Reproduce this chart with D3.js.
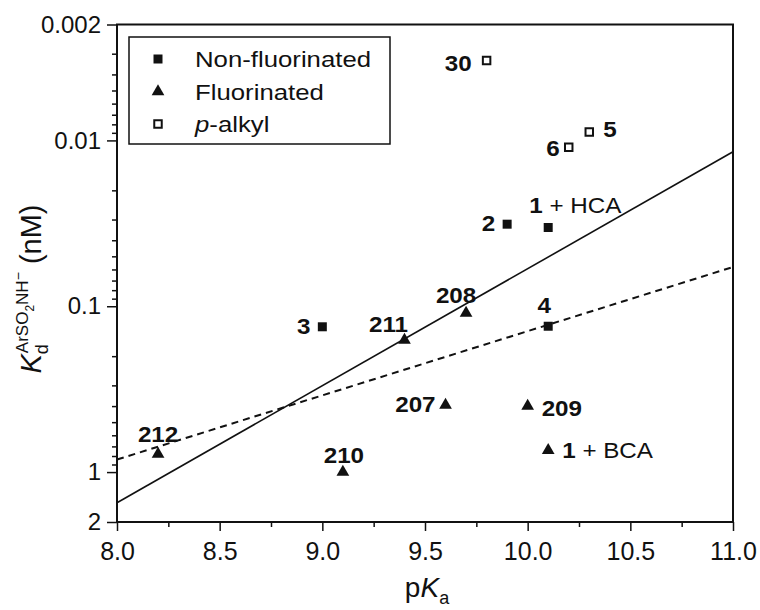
<!DOCTYPE html>
<meta charset="utf-8">
<style>
    body { margin: 0; background: #fff; }
    text { font-family: "Liberation Sans", Arial, sans-serif; fill: #111; }
    .axis path, .axis line { stroke: #111; }
    .axis text { font-size: 24px; fill: #111; }
</style>
<body>
<script src="https://cdn.jsdelivr.net/npm/d3@7"></script>
<script>
    // data
    var nonFluorX = [9.9, 10.1, 9.0, 10.1],
        nonFluorY = [0.032, 0.0335, 0.133, 0.132],
        nonFluorLabels = ['2', '1 + HCA', '3', '4'];

    var fluorX = [8.2, 9.1, 9.4, 9.6, 9.7, 10.0, 10.1],
        fluorY = [0.78, 1.0, 0.16, 0.395, 0.11, 0.40, 0.74],
        fluorLabels = ['212', '210', '211', '207', '208', '209', '1 + BCA'];

    var alkylX = [9.8, 10.3, 10.2],
        alkylY = [0.0033, 0.0089, 0.011],
        alkylLabels = ['30', '5', '6'];

    var solidFitX = [8, 11], solidFitY = [1.53, 0.0117],
        dashedFitX = [8, 11], dashedFitY = [0.84, 0.058];

    var xTicks = [8, 8.5, 9, 9.5, 10, 10.5, 11],
        yTicks = [0.002, 0.01, 0.1, 1, 2];

    var seriesNames = ['Non-fluorinated', 'Fluorinated', 'p-alkyl'];

    // where each point label sits relative to its marker
    var labelPos = {
        '30': [-15, 10, 'end'], '5': [14, 5, 'start'], '6': [-9, 9, 'end'],
        '2': [-12, 7, 'end'], '1 + HCA': [-19, -14, 'start'], '3': [-12, 7, 'end'],
        '4': [-4, -13, 'middle'], '211': [-16, -8, 'middle'], '208': [-10, -10, 'middle'],
        '207': [-10, 7, 'end'], '209': [14, 10, 'start'], '1 + BCA': [14, 8, 'start'],
        '210': [1, -9, 'middle'], '212': [0, -12, 'middle']
    };

    var W = 760, H = 610,
        plotLeft = 117, plotRight = 733, plotTop = 24.5, plotBottom = 522,
        stretch = 1.1;

    var svg = d3.select('body').append('svg')
        .attr('width', W)
        .attr('height', H);

    var x = d3.scaleLinear().domain([8, 11]).range([plotLeft, plotRight]);
    var y = d3.scaleLog().domain([0.002, 2]).range([plotTop, plotBottom]);

    // minor ticks
    var xMinor = d3.range(8.25, 11, 0.5);
    var yMinor = [];
    [0.001, 0.01, 0.1].forEach(function(dec) {
        for (var k = 2; k <= 9; k++) {
            var v = +(dec * k).toPrecision(3);
            if (v > 0.002 && yTicks.indexOf(v) < 0) yMinor.push(v);
        }
    });

    svg.append('g').attr('class', 'axis')
        .attr('transform', 'translate(0,' + plotBottom + ')')
        .call(d3.axisBottom(x).tickValues(xMinor).tickFormat('').tickSize(5).tickSizeOuter(0))
        .selectAll('line').attr('stroke-width', 1.5);

    var gx = svg.append('g').attr('class', 'axis')
        .attr('transform', 'translate(0,' + plotBottom + ')')
        .call(d3.axisBottom(x).tickValues(xTicks).tickFormat(d3.format('.1f'))
            .tickSize(9).tickPadding(11).tickSizeOuter(0));
    gx.selectAll('line').attr('stroke-width', 1.5);
    gx.selectAll('text').style('font-size', '25px');

    svg.append('g').attr('class', 'axis')
        .attr('transform', 'translate(' + plotLeft + ',0)')
        .call(d3.axisLeft(y).tickValues(yMinor).tickFormat('').tickSize(5).tickSizeOuter(0))
        .selectAll('line').attr('stroke-width', 1.5);

    var gy = svg.append('g').attr('class', 'axis')
        .attr('transform', 'translate(' + plotLeft + ',0)')
        .call(d3.axisLeft(y).tickValues(yTicks).tickFormat(function(d) { return String(d); })
            .tickSize(10).tickPadding(6).tickSizeOuter(0));
    gy.selectAll('line').attr('stroke-width', 1.5);

    svg.selectAll('.axis .domain').remove();

    // frame
    svg.append('rect')
        .attr('x', plotLeft).attr('y', plotTop)
        .attr('width', plotRight - plotLeft).attr('height', plotBottom - plotTop)
        .attr('fill', 'none').attr('stroke', '#111').attr('stroke-width', 2);

    // fit lines
    var line = d3.line().x(function(d) { return x(d[0]); }).y(function(d) { return y(d[1]); });
    svg.append('path')
        .attr('d', line(d3.zip(solidFitX, solidFitY)))
        .attr('fill', 'none').attr('stroke', '#111').attr('stroke-width', 1.6);
    svg.append('path')
        .attr('d', line(d3.zip(dashedFitX, dashedFitY)))
        .attr('fill', 'none').attr('stroke', '#111').attr('stroke-width', 2)
        .attr('stroke-dasharray', '7,5');

    var square = d3.symbol().type(d3.symbolSquare).size(81),
        openSquare = d3.symbol().type(d3.symbolSquare).size(56),
        triangle = d3.symbol().type(d3.symbolTriangle).size(70);

    function drawSeries(xs, ys, labels, sym, filled) {
        var pts = d3.zip(xs, ys, labels);
        svg.append('g').selectAll('path')
            .data(pts).enter().append('path')
            .attr('d', sym)
            .attr('transform', function(d) { return 'translate(' + x(d[0]) + ',' + y(d[1]) + ')'; })
            .attr('fill', filled ? '#111' : '#fff')
            .attr('stroke', '#111')
            .attr('stroke-width', filled ? 0 : 2);

        var t = svg.append('g').selectAll('text')
            .data(pts).enter().append('text')
            .attr('transform', function(d) {
                var p = labelPos[d[2]];
                return 'translate(' + (x(d[0]) + p[0]) + ',' + (y(d[1]) + p[1]) + ') scale(' + stretch + ',1)';
            })
            .attr('text-anchor', function(d) { return labelPos[d[2]][2]; })
            .style('font-size', '22px');
        t.append('tspan')
            .style('font-weight', 'bold')
            .text(function(d) { return d[2].split(' ')[0]; });
        t.append('tspan')
            .text(function(d) {
                var i = d[2].indexOf(' ');
                return i < 0 ? '' : d[2].slice(i).replace(/ /g, '\u00a0');
            });
    }

    drawSeries(nonFluorX, nonFluorY, nonFluorLabels, square, true);
    drawSeries(fluorX, fluorY, fluorLabels, triangle, true);
    drawSeries(alkylX, alkylY, alkylLabels, openSquare, false);

    // legend
    var legend = svg.append('g');
    legend.append('rect')
        .attr('x', 129).attr('y', 37).attr('width', 261).attr('height', 107)
        .attr('fill', '#fff').attr('stroke', '#111').attr('stroke-width', 1.5);
    var legSyms = [square, triangle, openSquare];
    seriesNames.forEach(function(name, i) {
        var ly = 59 + i * 32.5;
        legend.append('path')
            .attr('d', legSyms[i])
            .attr('transform', 'translate(158,' + ly + ')')
            .attr('fill', i < 2 ? '#111' : '#fff')
            .attr('stroke', '#111').attr('stroke-width', i < 2 ? 0 : 2);
        var lt = legend.append('text')
            .attr('transform', 'translate(195,' + (ly + 8) + ') scale(1.12,1)')
            .style('font-size', '23px');
        if (name.indexOf('p-') === 0) {
            lt.append('tspan').style('font-style', 'italic').text('p');
            lt.append('tspan').text(name.slice(1));
        } else {
            lt.text(name);
        }
    });

    // axis titles
    var xt = svg.append('text')
        .attr('transform', 'translate(427,597)')
        .attr('text-anchor', 'middle')
        .style('font-size', '28px');
    xt.append('tspan').text('p');
    xt.append('tspan').style('font-style', 'italic').text('K');
    xt.append('tspan').attr('dy', 7).style('font-size', '18px').text('a');

    var yt = svg.append('text')
        .attr('transform', 'translate(41,289) rotate(-90)')
        .attr('text-anchor', 'middle')
        .style('font-size', '29px');
    yt.append('tspan').style('font-style', 'italic').text('K');
    yt.append('tspan').attr('dy', 7).style('font-size', '18px').text('d');
    yt.append('tspan').attr('dx', -9).attr('dy', -20).style('font-size', '17px').text('ArSO');
    yt.append('tspan').attr('dy', 6).style('font-size', '12px').text('2');
    yt.append('tspan').attr('dy', -6).style('font-size', '17px').text('NH');
    yt.append('tspan').attr('dy', -5).style('font-size', '14px').text('\u2212');
    yt.append('tspan').attr('dy', 18).style('font-size', '29px').text('\u00a0(nM)');
</script>
</body>
